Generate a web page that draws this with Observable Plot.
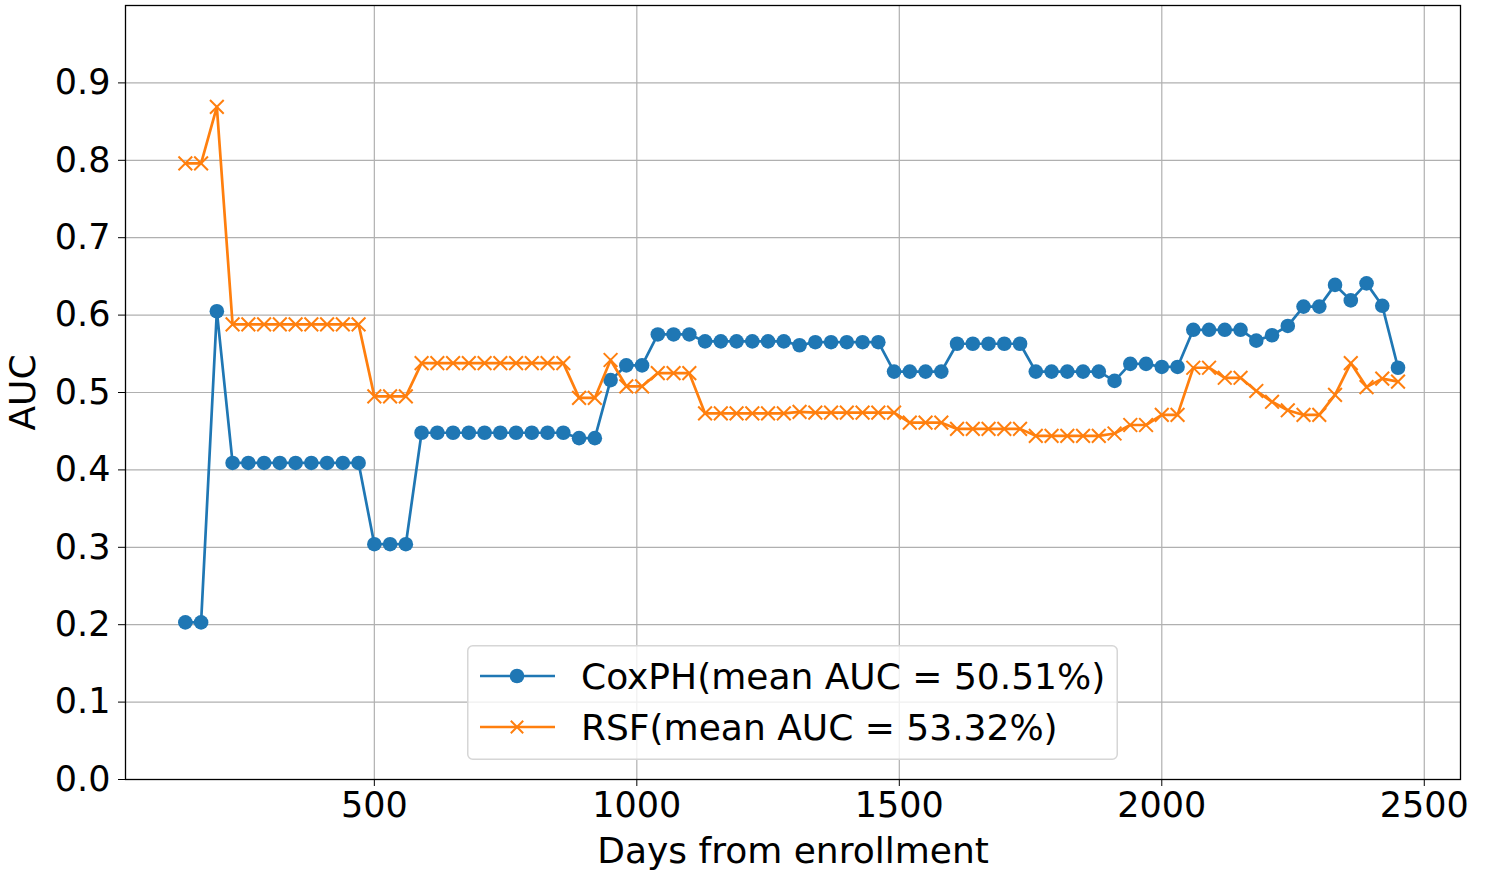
<!DOCTYPE html>
<html>
<head>
<meta charset="utf-8">
<script src="https://cdn.jsdelivr.net/npm/d3@7"></script>
<script src="https://cdn.jsdelivr.net/npm/@observablehq/plot@0.6"></script>
<style>
  body { margin: 0; background: #fff; }
  #wrap { position: relative; width: 1490px; height: 877px; font-family: "DejaVu Sans", sans-serif; }
  #legend { position: absolute; left: 467px; top: 645px; }
  #wrap svg g[aria-label="x-axis label"] text, #wrap svg g[aria-label="y-axis label"] text { font-size: 36px; }
</style>
</head>
<body>
<div id="wrap"></div>
<script>
// ---- data ----
const days = [140,170,200,230,260,290,320,350,380,410,440,470,500,530,560,590,620,650,680,710,
  740,770,800,830,860,890,920,950,980,1010,1040,1070,1100,1130,1160,1190,1220,1250,1280,1310,
  1340,1370,1400,1430,1460,1490,1520,1550,1580,1610,1640,1670,1700,1730,1760,1790,1820,1850,1880,1910,
  1940,1970,2000,2030,2060,2090,2120,2150,2180,2210,2240,2270,2300,2330,2360,2390,2420,2450];

const coxAUC = [0.203,0.203,0.605,0.409,0.409,0.409,0.409,0.409,0.409,0.409,0.409,0.409,
  0.304,0.304,0.304,0.448,0.448,0.448,0.448,0.448,0.448,0.448,0.448,0.448,0.448,
  0.441,0.441,0.516,0.535,0.535,0.575,0.575,0.575,
  0.566,0.566,0.566,0.566,0.566,0.566,0.561,0.565,0.565,0.565,0.565,0.565,
  0.527,0.527,0.527,0.527,0.563,0.563,0.563,0.563,0.563,
  0.527,0.527,0.527,0.527,0.527,0.515,0.537,0.537,0.533,0.533,
  0.581,0.581,0.581,0.581,0.567,0.574,0.586,0.611,0.611,0.639,0.619,0.641,0.612,0.532];

const rsfAUC = [0.796,0.796,0.869,0.588,0.588,0.588,0.588,0.588,0.588,0.588,0.588,0.588,
  0.495,0.495,0.495,0.538,0.538,0.538,0.538,0.538,0.538,0.538,0.538,0.538,0.538,
  0.493,0.493,0.542,0.508,0.508,0.525,0.525,0.525,
  0.473,0.473,0.473,0.473,0.473,0.473,0.475,0.474,0.474,0.474,0.474,0.474,0.474,
  0.461,0.461,0.461,0.453,0.453,0.453,0.453,0.453,
  0.444,0.444,0.444,0.444,0.444,0.447,0.458,0.458,0.471,0.471,
  0.532,0.532,0.519,0.519,0.502,0.488,0.477,0.471,0.471,0.497,0.538,0.507,0.518,0.514];

const seriesNames = ["CoxPH(mean AUC = 50.51%)", "RSF(mean AUC = 53.32%)"];
const seriesColors = ["#1f77b4", "#ff7f0e"];
const xTicks = [500, 1000, 1500, 2000, 2500];
const yTicks = [0.0, 0.1, 0.2, 0.3, 0.4, 0.5, 0.6, 0.7, 0.8, 0.9];
const xLabel = "Days from enrollment";
const yLabel = "AUC";

const coxData = days.map((d, i) => ({day: d, auc: coxAUC[i]}));
const rsfData = days.map((d, i) => ({day: d, auc: rsfAUC[i]}));

const gridStyle = {stroke: "#b0b0b0", strokeOpacity: 1, strokeWidth: 1.2};

const chart = Plot.plot({
  width: 1490,
  height: 877,
  marginLeft: 125,
  marginRight: 30,
  marginTop: 5,
  marginBottom: 98,
  style: {fontFamily: "DejaVu Sans, sans-serif", fontSize: "35px", color: "black", background: "white", overflow: "visible"},
  x: {domain: [26, 2569]},
  y: {domain: [0, 1.0]},
  marks: [
    Plot.gridX(xTicks, gridStyle),
    Plot.gridY(yTicks, gridStyle),
    Plot.line(coxData, {x: "day", y: "auc", stroke: seriesColors[0], strokeWidth: 2.7}),
    Plot.dot(coxData, {x: "day", y: "auc", r: 7.3, fill: seriesColors[0], stroke: "none"}),
    Plot.line(rsfData, {x: "day", y: "auc", stroke: seriesColors[1], strokeWidth: 2.7}),
    Plot.dot(rsfData, {x: "day", y: "auc", r: 6.3, symbol: "times", stroke: seriesColors[1], strokeWidth: 2}),
    Plot.frame({stroke: "black", strokeWidth: 1.3}),
    Plot.axisX(xTicks, {tickSize: 7, tickPadding: 6, tickFormat: d => String(d),
      label: xLabel, labelAnchor: "center", labelOffset: 83, labelArrow: "none"}),
    Plot.axisY(yTicks, {tickSize: 7, tickPadding: 8, tickFormat: d3.format(".1f"),
      label: yLabel, labelAnchor: "center", labelOffset: 116, labelArrow: "none"})
  ]
});

const wrap = document.getElementById("wrap");
wrap.appendChild(chart);

// ---- legend (inside plot area, lower centre) ----
const lw = 651, lh = 115;
const leg = d3.select(wrap).append("svg")
  .attr("id", "legend")
  .attr("width", lw).attr("height", lh);
leg.append("rect")
  .attr("x", 0.75).attr("y", 0.75).attr("width", lw - 1.5).attr("height", lh - 1.5)
  .attr("rx", 5).attr("fill", "white").attr("fill-opacity", 0.8)
  .attr("stroke", "#d6d6d6").attr("stroke-width", 1.5);
seriesNames.forEach((name, i) => {
  const cy = 31 + i * 51;
  const g = leg.append("g");
  g.append("line").attr("x1", 13).attr("x2", 88).attr("y1", cy).attr("y2", cy)
    .attr("stroke", seriesColors[i]).attr("stroke-width", 2.7);
  if (i === 0) {
    g.append("circle").attr("cx", 50).attr("cy", cy).attr("r", 7.3).attr("fill", seriesColors[i]);
  } else {
    const s = 6.2;
    g.append("path").attr("d", `M${50 - s},${cy - s}L${50 + s},${cy + s}M${50 - s},${cy + s}L${50 + s},${cy - s}`)
      .attr("stroke", seriesColors[i]).attr("stroke-width", 2).attr("fill", "none");
  }
  g.append("text").attr("x", 114).attr("y", cy).attr("dy", "0.36em")
    .attr("font-family", "DejaVu Sans, sans-serif").attr("font-size", 36)
    .attr("fill", "black").text(name);
});
</script>
</body>
</html>
